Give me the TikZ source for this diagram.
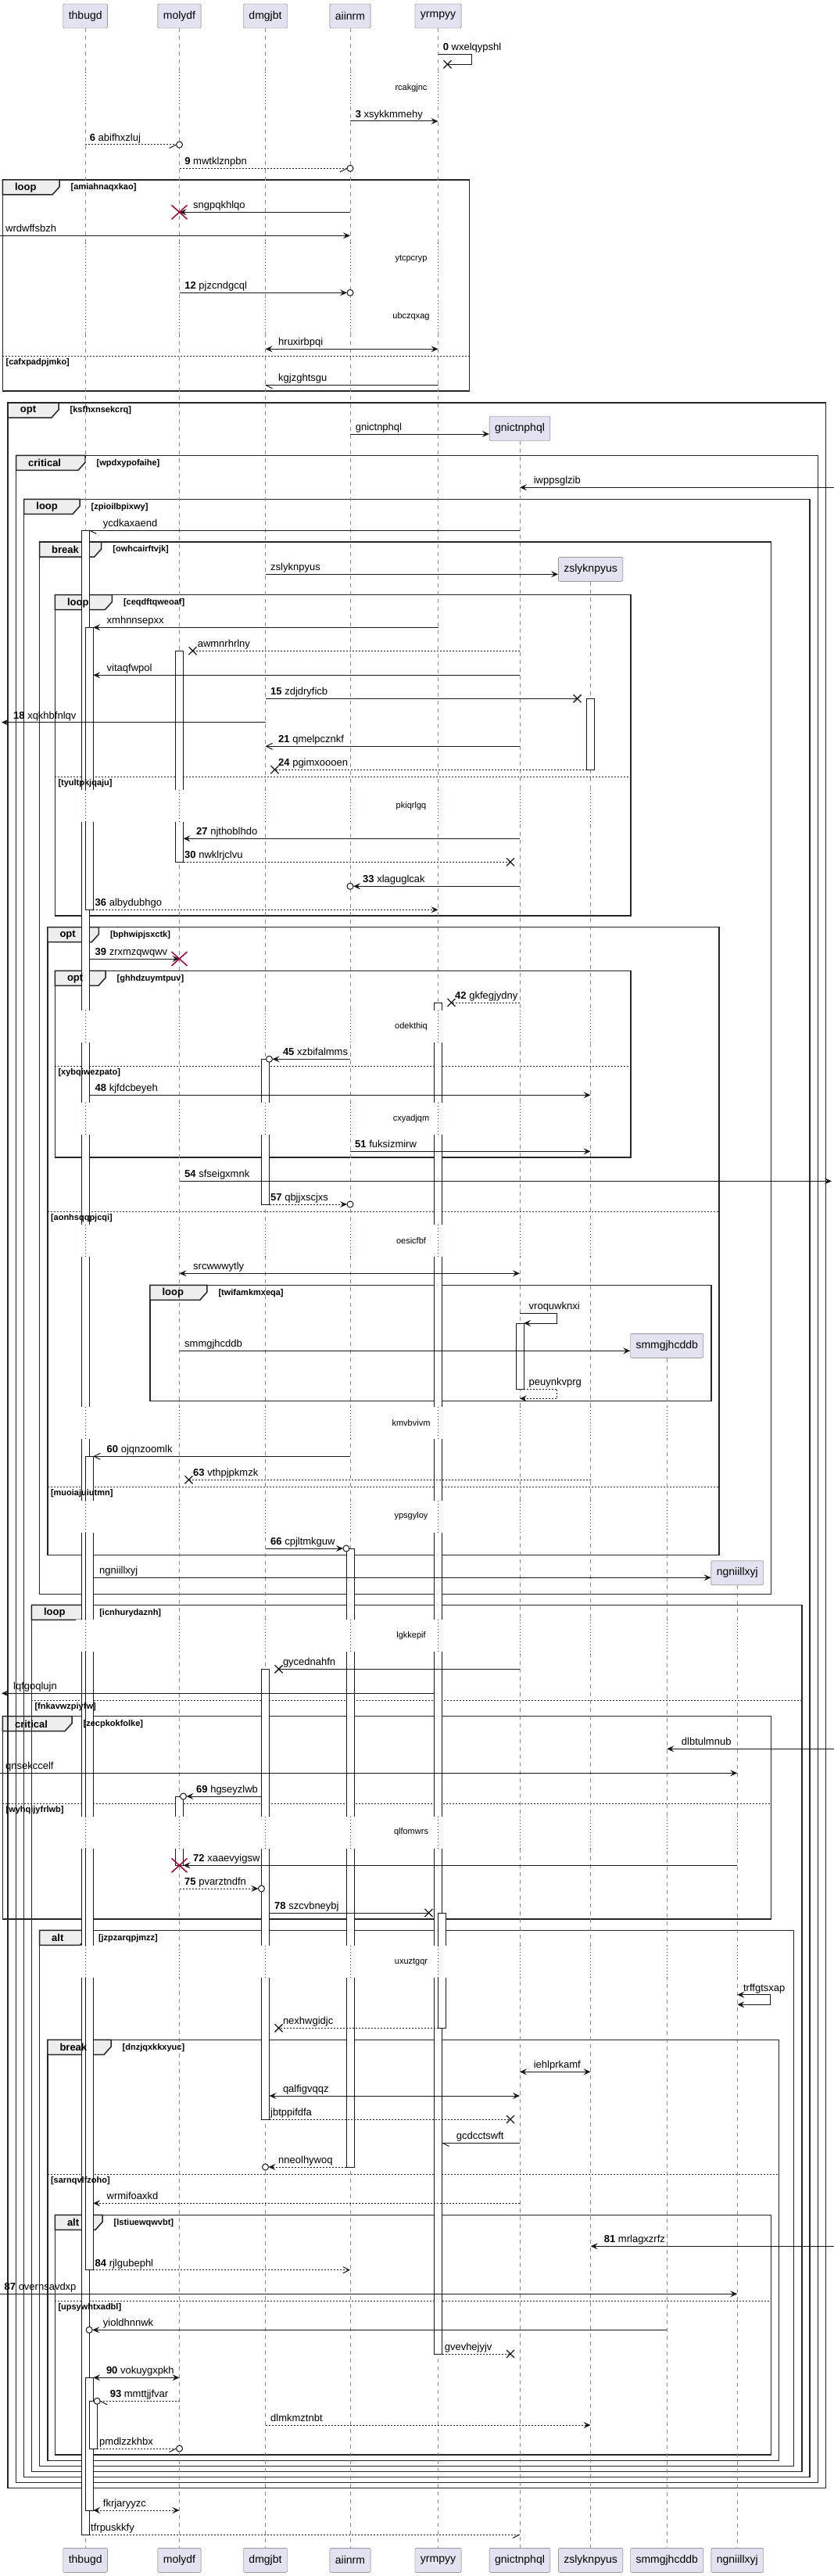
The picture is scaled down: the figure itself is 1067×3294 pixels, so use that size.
\documentclass[tikz,border=0pt]{standalone}
\usepackage{fontspec}
\setmainfont{Liberation Sans}
\usetikzlibrary{arrows.meta}
\definecolor{ln}{HTML}{181818}
\definecolor{pfill}{HTML}{E2E2F0}
\definecolor{tabf}{HTML}{EEEEEE}
\definecolor{crim}{HTML}{A80036}
\definecolor{lifec}{HTML}{8A8A8A}
\tikzset{
 ml/.style={draw=ln, line width=1pt},
 dl/.style={ml, dash pattern=on 2pt off 2pt},
 fa/.style={-{Stealth[length=9pt,width=8pt,inset=3.5pt]}},
 fab/.style={{Stealth[length=9pt,width=8pt,inset=3.5pt]}-{Stealth[length=9pt,width=8pt,inset=3.5pt]}},
 oa/.style={-{Straight Barb[length=8pt,width=8pt]}},
 lbl/.style={anchor=base west, inner sep=0pt, font=\fontsize{13}{15}\selectfont, text=black},
 pbox/.style={draw=gray!85!black, fill=pfill, rounded corners=2pt, minimum height=31pt, inner xsep=7pt, font=\fontsize{14}{16}\selectfont},
 life/.style={draw=lifec, line width=0.8pt, dash pattern=on 5pt off 5pt},
 act/.style={draw=ln, fill=white, line width=1pt},
 grpl/.style={draw=black!85, line width=1.5pt},
 kw/.style={anchor=west, inner sep=0pt, font=\bfseries\fontsize{13}{15}\selectfont},
 cond/.style={anchor=west, inner sep=0pt, font=\bfseries\fontsize{11}{13}\selectfont},
 elsel/.style={draw=black!85, line width=1pt, dash pattern=on 2pt off 2pt},
 dly/.style={font=\fontsize{11}{13}\selectfont, inner sep=0pt},
 dlyl/.style={draw=crim, line width=1pt, dash pattern=on 1pt off 3pt},
}
\newcommand\Msg[7]{%
 \coordinate (#1a) at (#3,#2);
 \coordinate (#1b) at (#4,#2);
 \draw[#5] (#1a) -- (#1b);
 \node[lbl] (#1t) at ({#6},{#2-4.5}) {#7};}
\newcommand\Xh[2]{\draw[ln, line width=1.3pt] ({#1-5},{#2-5}) -- ({#1+5},{#2+5}) ({#1-5},{#2+5}) -- ({#1+5},{#2-5});}
\newcommand\Dx[2]{\draw[crim, line width=1.5pt] ({#1-10},{#2-9}) -- ({#1+10},{#2+9}) ({#1-10},{#2+9}) -- ({#1+10},{#2-9});}
\newcommand\Oc[2]{\draw[ln, fill=white, line width=1pt] (#1,#2) circle[radius=4pt];}
\newcommand\Hl[3]{\draw[ln, line width=1pt] (#1,#2) -- ({#1+(#3)*9},{#2+4.5});}
\newcommand\Dly[3]{%
 \foreach \xx in {#3} {\fill[white] ({\xx-12},{#1-20.5}) rectangle ({\xx+12},{#1+20.5});
   \draw[dlyl] (\xx,{#1-20.5}) -- (\xx,{#1+20.5});}
 \node[dly] (d#2) at (526,#1) {#2};}
\newcommand\Grp[5]{%
 \draw[grpl] (#1,#2) rectangle (#3,#4);
 \draw[grpl, fill=tabf] (#1,#2) -- (#5,#2) -- (#5,{#2+9}) -- ({#5-9},{#2+19}) -- (#1,{#2+19}) -- cycle;}
\newcommand\GrpT[6]{%
 \node[kw] (#6k) at ({#1+15.5},{#2+10}) {#4};
 \node[cond] (#6c) at ({#3+14.5},{#2+10}) {[#5]};}
\newcommand\Els[3]{\draw[elsel] (#1,#3) -- (#2,#3);}
\newcommand\ElsT[3]{\node[cond] (#3) at ({#1+4},{#2+8.4}) {[#3]};}
\newcommand\Act[4]{\draw[act] (#1,#2) rectangle (#3,#4);}
\begin{document}
\begin{tikzpicture}[x=1pt,y=-1pt]
\fill[white] (0,0) rectangle (1067,3294);
\useasboundingbox (0,0) rectangle (1067,3294);
% frames
\Grp{3.4}{2194.7}{986.3}{2454}{92}
\Els{3.4}{986.3}{2306}
\Grp{3.4}{230}{600.7}{500}{76}
\Els{3.4}{600.7}{455.3}
\Grp{10.2}{515}{1056.7}{3181.7}{75}
\Grp{20.5}{582.3}{1046.4}{3174.3}{109}
\Grp{30.7}{638.3}{1036}{3167.7}{102}
\Grp{50.5}{693}{986.3}{2038.3}{129.7}
\Grp{70.3}{760.7}{806.8}{1171}{143.3}
\Els{70.3}{806.8}{993}
\Grp{60.8}{1185.7}{920}{1988.3}{126.3}
\Els{60.8}{920}{1549.3}
\Els{60.8}{920}{1901.7}
\Grp{70.3}{1241.3}{806.8}{1480}{135}
\Els{70.3}{806.8}{1363.3}
\Grp{191.8}{1643.3}{910}{1791.7}{264.8}
\Grp{40.3}{2052.3}{1026}{3160.7}{112.6}
\Els{40.3}{1026}{2174.3}
\Grp{50.5}{2468.3}{1015.7}{3153.3}{111.3}
\Grp{60.8}{2608.3}{996.6}{3146.7}{142}
\Els{60.8}{996.6}{2780.3}
\Grp{70.3}{2832.3}{986.3}{3139}{131}
\Els{70.3}{986.3}{2942.3}
% participants
\node[pbox] (tbT) at (109.2,20.5) {thbugd};
\node[pbox] (moT) at (229.5,20.5) {molydf};
\node[pbox] (dmT) at (339.5,20.5) {dmgjbt};
\node[pbox] (aiT) at (448,20.5) {aiinrm};
\node[pbox] (yrT) at (560.5,20.5) {yrmpyy};
\node[pbox] (gnC) at (665,548) {gnictnphql};
\node[pbox] (zsC) at (755.6,727.8) {zslyknpyus};
\node[pbox] (smC) at (853.2,1720.8) {smmgjhcddb};
\node[pbox] (ngC) at (943.3,2011.3) {ngniillxyj};
\node[pbox] (tbB) at (109.2,3273.8) {thbugd};
\node[pbox] (moB) at (229.5,3273.8) {molydf};
\node[pbox] (dmB) at (339.5,3273.8) {dmgjbt};
\node[pbox] (aiB) at (448,3273.8) {aiinrm};
\node[pbox] (yrB) at (560.5,3273.8) {yrmpyy};
\node[pbox] (gnB) at (665,3273.8) {gnictnphql};
\node[pbox] (zsB) at (755.6,3273.8) {zslyknpyus};
\node[pbox] (smB) at (853.2,3273.8) {smmgjhcddb};
\node[pbox] (ngB) at (943.3,3273.8) {ngniillxyj};
% lifelines
\draw[life] (tbT) -- (tbB);
\draw[life] (moT) -- (moB);
\draw[life] (dmT) -- (dmB);
\draw[life] (aiT) -- (aiB);
\draw[life] (yrT) -- (yrB);
\draw[life] (gnC) -- (gnB);
\draw[life] (zsC) -- (zsB);
\draw[life] (smC) -- (smB);
\draw[life] (ngC) -- (ngB);
% activations
\Act{104.2}{678}{114.2}{3241}
\Act{109.2}{802.3}{119.2}{1163.3}
\Act{109.2}{1862.3}{119.2}{2902.7}
\Act{109.2}{3040.3}{119.2}{3210}
\Act{114.2}{3070.3}{124.2}{3131}
\Act{224.5}{832.3}{234.5}{1102.3}
\Act{224.5}{2297}{234.5}{2385.3}
\Act{334.5}{1354.3}{344.5}{1540}
\Act{334.5}{2134.3}{344.5}{2710}
\Act{443}{1980}{453}{2771}
\Act{555.5}{1282}{565.5}{3010}
\Act{560.5}{2446}{570.5}{2593.3}
\Act{750.6}{893.3}{760.6}{984.3}
\Act{660}{1692}{670}{1776}
% delays
\Dly{112.3}{rcakgjnc}{109.2,229.5,339.5,448,560.5}
\Dly{331.3}{ytcpcryp}{109.2,229.5,339.5,448,560.5}
\Dly{404.7}{ubczqxag}{109.2,229.5,339.5,448,560.5}
\Dly{1030.7}{pkiqrlgq}{109.2,229.5,339.5,448,560.5,665,755.6}
\Dly{1312.3}{odekthiq}{109.2,229.5,339.5,448,560.5,665,755.6}
\Dly{1430.3}{cxyadjqm}{109.2,229.5,339.5,448,560.5,665,755.6}
\Dly{1586.7}{oesicfbf}{109.2,229.5,339.5,448,560.5,665,755.6}
\Dly{1819.3}{kmvbvivm}{109.2,229.5,339.5,448,560.5,665,755.6,853.2}
\Dly{1939}{ypsgyloy}{109.2,229.5,339.5,448,560.5,665,755.6,853.2}
\Dly{2091.7}{lgkkepif}{109.2,229.5,339.5,448,560.5,665,755.6,853.2,943.3}
\Dly{2343}{qlfomwrs}{109.2,229.5,339.5,448,560.5,665,755.6,853.2,943.3}
\Dly{2508.7}{uxuztgqr}{109.2,229.5,339.5,448,560.5,665,755.6,853.2,943.3}
% frame and else texts
\GrpT{3.4}{2194.7}{92}{critical}{zecpkokfolke}{f11}
\ElsT{3.4}{2306}{wyhqijyfrlwb}
\GrpT{3.4}{230}{76}{loop}{amiahnaqxkao}{f1}
\ElsT{3.4}{455.3}{cafxpadpjmko}
\GrpT{10.2}{515}{75}{opt}{ksfhxnsekcrq}{f2}
\GrpT{20.5}{582.3}{109}{critical}{wpdxypofaihe}{f3}
\GrpT{30.7}{638.3}{102}{loop}{zpioilbpixwy}{f4}
\GrpT{50.5}{693}{129.7}{break}{owhcairftvjk}{f5}
\GrpT{70.3}{760.7}{143.3}{loop}{ceqdftqweoaf}{f6}
\ElsT{70.3}{993}{tyultpkjqaju}
\GrpT{60.8}{1185.7}{126.3}{opt}{bphwipjsxctk}{f7}
\ElsT{60.8}{1549.3}{aonhsqqpjcqi}
\ElsT{60.8}{1901.7}{muoiajuiutmn}
\GrpT{70.3}{1241.3}{135}{opt}{ghhdzuymtpuv}{f8}
\ElsT{70.3}{1363.3}{xybqiwezpato}
\GrpT{191.8}{1643.3}{264.8}{loop}{twifamkmxeqa}{f9}
\GrpT{40.3}{2052.3}{112.6}{loop}{icnhurydaznh}{f10}
\ElsT{40.3}{2174.3}{fnkavwzpiyfw}
\GrpT{50.5}{2468.3}{111.3}{alt}{jzpzarqpjmzz}{f12}
\GrpT{60.8}{2608.3}{142}{break}{dnzjqxkkxyuc}{f13}
\ElsT{60.8}{2780.3}{sarnqvlfzoho}
\GrpT{70.3}{2832.3}{131}{alt}{lstiuewqwvbt}{f14}
\ElsT{70.3}{2942.3}{upsywhtxadbl}
% messages
\coordinate (m0a) at (560.5,69.3); \coordinate (m0b) at (572.5,82.3);
\draw[ml] (m0a) -- (603,69.3) -- (603,82.3) -- (m0b); \Xh{572.5}{82.3}
\node[lbl] (m0t) at (566.6,64.8) {{\bfseries 0} wxelqypshl};
\Msg{m3}{155}{448}{560.5}{ml,fa}{454.6}{{\bfseries 3} xsykkmmehy}
\Msg{m6}{185}{109.2}{225.5}{dl}{114.7}{{\bfseries 6} abifhxzluj} \Hl{225.5}{185}{-1} \Oc{229.5}{185}
\Msg{m9}{215.3}{229.5}{444}{dl}{236.2}{{\bfseries 9} mwtklznpbn} \Hl{444}{215.3}{-1} \Oc{448}{215.3}
\Msg{m10}{271.3}{448}{229.5}{ml,fa}{247}{sngpqkhlqo} \Dx{229.5}{271.3}
\Msg{m11}{301.3}{0}{448}{ml,fa}{7}{wrdwffsbzh}
\Msg{m12}{374.3}{229.5}{444}{ml,fa}{236.2}{{\bfseries 12} pjzcndgcql} \Oc{448}{374.3}
\Msg{m13}{446.3}{339.5}{560.5}{ml,fab}{356}{hruxirbpqi}
\Msg{m14}{492.3}{560.5}{339.5}{ml}{356}{kgjzghtsgu} \Hl{339.5}{492.3}{1}
\coordinate (m15a) at (448,555);
\draw[ml,fa] (m15a) -- (m15a -| gnC.west);
\node[lbl] (m15t) at (454.6,550.5) {gnictnphql};
\Msg{m16}{623.3}{1067}{665}{ml,fa}{682.6}{iwppsglzib}
\Msg{m17}{678}{665}{114.2}{ml}{131.7}{ycdkaxaend} \Hl{114.2}{678}{1}
\coordinate (m18a) at (339.5,734.3);
\draw[ml,fa] (m18a) -- (m18a -| zsC.west);
\node[lbl] (m18t) at (346,729.8) {zslyknpyus};
\Msg{m19}{802.3}{560.5}{119.2}{ml,fa}{136.5}{xmhnnsepxx}
\Msg{m20}{832.3}{665}{246.5}{dl}{252.6}{awmnrhrlny} \Xh{246.5}{832.3}
\Msg{m21}{863.3}{665}{119.2}{ml,fa}{136.5}{vitaqfwpol}
\Msg{m22}{893.3}{339.5}{738.6}{ml}{346}{{\bfseries 15} zdjdryficb} \Xh{738.6}{893.3}
\Msg{m23}{923.7}{339.5}{2}{ml,fa}{17}{{\bfseries 18} xqkhbfnlqv}
\Msg{m24}{954.3}{665}{339.5}{ml,oa}{356}{{\bfseries 21} qmelpcznkf}
\Msg{m25}{984.3}{750.6}{351.5}{dl}{356}{{\bfseries 24} pgimxoooen} \Xh{351.5}{984.3}
\Msg{m26}{1072.3}{665}{234.5}{ml,fa}{251}{{\bfseries 27} njthoblhdo}
\Msg{m27}{1102.3}{234.5}{653}{dl}{236}{{\bfseries 30} nwklrjclvu} \Xh{653}{1102.3}
\Msg{m28}{1133.3}{665}{452}{ml,fa}{464}{{\bfseries 33} xlaguglcak} \Oc{448}{1133.3}
\Msg{m29}{1163.3}{119.2}{560.5}{dl,fa}{121.5}{{\bfseries 36} albydubhgo}
\Msg{m30}{1226}{114.2}{229.5}{ml,fa}{121.5}{{\bfseries 39} zrxmzqwqwv} \Dx{229.5}{1226}
\Msg{m31}{1282}{665}{577.5}{dl}{582}{{\bfseries 42} gkfegjydny} \Xh{577.5}{1282}
\Msg{m32}{1354.3}{448}{348.5}{ml,fa}{361.8}{{\bfseries 45} xzbifalmms} \Oc{344.5}{1354.3}
\Msg{m33}{1400.3}{114.2}{755.6}{ml,fa}{121.5}{{\bfseries 48} kjfdcbeyeh}
\Msg{m34}{1472.3}{448}{755.6}{ml,fa}{454}{{\bfseries 51} fuksizmirw}
\Msg{m35}{1510.3}{229.5}{1064}{ml,fa}{236}{{\bfseries 54} sfseigxmnk}
\Msg{m36}{1540}{344.5}{444}{dl,fa}{346}{{\bfseries 57} qbjjxscjxs} \Oc{448}{1540}
\Msg{m37}{1628.3}{229.5}{665}{ml,fab}{247}{srcwwwytly}
\coordinate (m38a) at (665,1679.3); \coordinate (m38b) at (670,1692);
\draw[ml,fa] (m38a) -- (712.6,1679.3) -- (712.6,1692) -- (m38b);
\node[lbl] (m38t) at (676.5,1674.8) {vroquwknxi};
\coordinate (m39a) at (229.5,1727.3);
\draw[ml,fa] (m39a) -- (m39a -| smC.west);
\node[lbl] (m39t) at (236,1722.8) {smmgjhcddb};
\coordinate (m40a) at (670,1776); \coordinate (m40b) at (665,1788.3);
\draw[dl,fa] (m40a) -- (712.6,1776) -- (712.6,1788.3) -- (m40b);
\node[lbl] (m40t) at (676.5,1771.5) {peuynkvprg};
\Msg{m41}{1862.3}{448}{119.2}{ml,oa}{136.5}{{\bfseries 60} ojqnzoomlk}
\Msg{m42}{1892.3}{755.6}{241.5}{dl}{247}{{\bfseries 63} vthpjpkmzk} \Xh{241.5}{1892.3}
\Msg{m43}{1980}{339.5}{439}{ml,fa}{346}{{\bfseries 66} cpjltmkguw} \Oc{443}{1980}
\coordinate (m44a) at (119.2,2017.3);
\draw[ml,fa] (m44a) -- (m44a -| ngC.west);
\node[lbl] (m44t) at (127,2012.8) {ngniillxyj};
\Msg{m45}{2134.3}{665}{356.5}{ml}{361.8}{gycednahfn} \Xh{356.5}{2134.3}
\Msg{m46}{2165.3}{555.5}{2}{ml,fa}{17}{lqfgoqlujn}
\Msg{m47}{2236.3}{1067}{853.2}{ml,fa}{871.7}{dlbtulmnub}
\Msg{m48}{2267.3}{0}{943.3}{ml,fa}{7}{qnsekccelf}
\Msg{m49}{2297}{334.5}{238.5}{ml,fa}{251}{{\bfseries 69} hgseyzlwb} \Oc{234.5}{2297}
\Msg{m50}{2385.3}{943.3}{234.5}{ml,fa}{247}{{\bfseries 72} xaaevyigsw} \Dx{229.5}{2385.3}
\Msg{m51}{2415}{229.5}{330.5}{dl,fa}{236}{{\bfseries 75} pvarztndfn} \Oc{334.5}{2415}
\Msg{m52}{2446}{344.5}{548.5}{ml}{351}{{\bfseries 78} szcvbneybj} \Xh{548.5}{2446}
\coordinate (m53a) at (943.3,2550.7); \coordinate (m53b) at (943.3,2563.3);
\draw[ml,fab] (m53a) -- (985.7,2550.7) -- (985.7,2563.3) -- (m53b);
\node[lbl] (m53t) at (950.9,2546.2) {trffgtsxap};
\Msg{m54}{2593.3}{560.5}{356.5}{dl}{361.8}{nexhwgidjc} \Xh{356.5}{2593.3}
\Msg{m55}{2649.3}{665}{755.6}{ml,fab}{682.6}{iehlprkamf}
\Msg{m56}{2680}{344.5}{665}{ml,fab}{361.8}{qalfigvqqz}
\Msg{m57}{2710}{344.5}{653}{dl}{346}{jbtppifdfa} \Xh{653}{2710}
\Msg{m58}{2740}{665}{565.5}{ml}{583.6}{gcdcctswft} \Hl{565.5}{2740}{1}
\Msg{m59}{2771}{443}{343.5}{dl,fa}{356}{nneolhywoq} \Oc{339.5}{2771}
\Msg{m60}{2817.3}{665}{119.2}{dl,fa}{136.5}{wrmifoaxkd}
\Msg{m61}{2872.3}{1067}{755.6}{ml,fa}{772.7}{{\bfseries 81} mrlagxzrfz}
\Msg{m62}{2902.7}{119.2}{448}{dl,oa}{121.5}{{\bfseries 84} rjlgubephl}
\Msg{m63}{2933.3}{0}{943.3}{ml,fa}{5.5}{{\bfseries 87} overnsavdxp}
\Msg{m64}{2979.3}{853.2}{118.2}{ml,fa}{131.7}{yioldhnnwk} \Oc{114.2}{2979.3}
\Msg{m65}{3010}{565.5}{653}{dl}{568.6}{gvevhejyjv} \Xh{653}{3010}
\Msg{m66}{3040.3}{119.2}{229.5}{ml,fab}{135.8}{{\bfseries 90} vokuygxpkh}
\Msg{m67}{3070.3}{229.5}{128.2}{dl}{140.6}{{\bfseries 93} mmttjjfvar} \Hl{128.2}{3070.3}{1} \Oc{124.2}{3070.3}
\Msg{m68}{3101}{339.5}{755.6}{dl,fa}{346}{dlmkmztnbt}
\Msg{m69}{3131}{124.2}{225.5}{dl}{127}{pmdlzzkhbx} \Hl{225.5}{3131}{-1} \Oc{229.5}{3131}
\Msg{m70}{3210}{119.2}{229.5}{dl,fab}{131.7}{fkrjaryyzc}
\Msg{m71}{3241}{114.2}{665}{dl}{116}{tfrpuskkfy} \Hl{665}{3241}{-1}
\end{tikzpicture}
\end{document}
